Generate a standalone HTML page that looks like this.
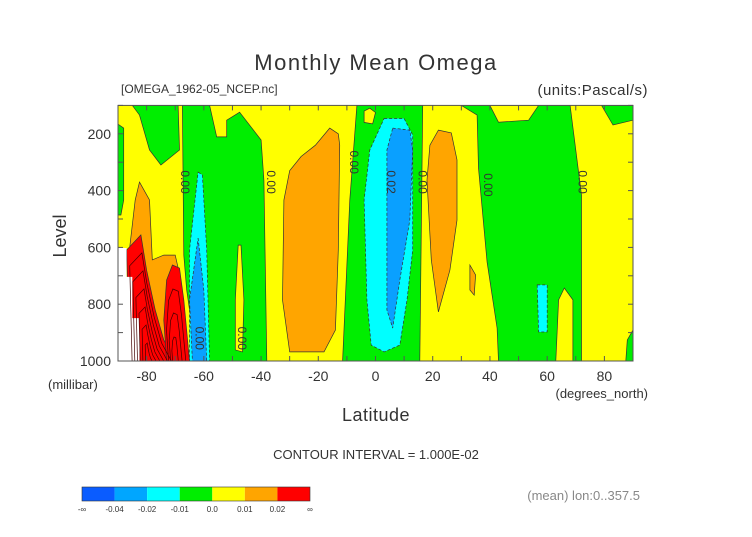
<!DOCTYPE html>
<html><head><meta charset="utf-8"><style>
body{margin:0;background:#fff;}
svg text{font-family:"Liberation Sans",sans-serif;fill:#333;}
</style></head><body>
<svg id="c" width="752" height="532" viewBox="0 0 752 532" xmlns="http://www.w3.org/2000/svg">
<text x="376" y="70" font-size="22" text-anchor="middle" letter-spacing="1.5">Monthly Mean Omega</text>
<text x="121" y="93" font-size="12">[OMEGA_1962-05_NCEP.nc]</text>
<text x="648" y="95" font-size="15" text-anchor="end" letter-spacing="0.5">(units:Pascal/s)</text>
<g id="plot"></g>
<text x="66" y="236" font-size="18" text-anchor="middle" transform="rotate(-90 66 236)">Level</text>
<text x="48" y="389" font-size="13">(millibar)</text>
<text x="376" y="421" font-size="18" text-anchor="middle" letter-spacing="0.5">Latitude</text>
<text x="648" y="398" font-size="13" text-anchor="end">(degrees_north)</text>
<text x="376" y="459" font-size="13" text-anchor="middle">CONTOUR INTERVAL = 1.000E-02</text>
<text x="640" y="500" font-size="13" text-anchor="end" style="fill:#888">(mean) lon:0..357.5</text>
<g id="cbar"></g>
</svg>
<script>
const latTicks=[-80,-60,-40,-20,0,20,40,60,80];
const levTicks=[200,400,600,800,1000];
const cbarLabels=["-∞","-0.04","-0.02","-0.01","0.0","0.01","0.02","∞"];
const cbarColors=["#0a5cff","#00a6ff","#00ffff","#00ee00","#ffff00","#ffa500","#ff0000"];
const regionKinds=["green","green","green","yellow","green","green","yellow","yellow","green","green","yellow","cyan","cyan","cyan","blue","blue","orange","orange","orange","orange","red","red","white"];
const regions=[
[[-85,100],[-69,100],[-68.5,257],[-75,310],[-79,257],[-82.5,134]],
[[-90,166],[-88,180],[-88,433],[-89,486],[-90,486]],
[[-67.5,100],[-58,100],[-55.5,211],[-52,211],[-52,152],[-47.5,124],[-40,222],[-39,363],[-38,1000],[-63,1000],[-64,891],[-66,750],[-67,627]],
[[-48,592],[-47,592],[-46,785],[-46.5,968],[-49,961],[-49,785]],
[[-6.5,100],[16.5,100],[15.5,1000],[-11.5,1000],[-9,433]],
[[30,100],[68,100],[72,416],[72,1000],[43,1000],[42.5,884],[39,652],[36,321],[35.5,134]],
[[40,100],[57,100],[53.5,152],[43,159]],
[[66,743],[69,785],[69,1000],[63,1000],[64,785]],
[[79,100],[90,100],[90,152],[83,169]],
[[87.5,1000],[90,1000],[90,891],[88,926]],
[[-4,120],[-2,110],[0,125],[-1,165],[-4,160]],
[[-62,335],[-60.5,345],[-59,609],[-58,1000],[-65,1000],[-65,609]],
[[3,146],[10,146],[13,204],[13,609],[11,785],[8.5,944],[3,968],[-1.5,944],[-3,785],[-4,433],[-2,257]],
[[56.5,732],[60,732],[60,898],[57,898]],
[[-62,567],[-60,750],[-59,1000],[-64,1000],[-65,785]],
[[6,180],[12,187],[13,257],[12,504],[8.5,715],[6,884],[4,820],[4,433],[4,257]],
[[-16,180],[-13,200],[-12.5,240],[-13,609],[-14,891],[-18,968],[-30,968],[-32.5,785],[-32,433],[-30,330],[-26,280],[-21,240]],
[[22,187],[26.5,197],[28.5,292],[28.5,504],[26,680],[22,827],[19.5,644],[18,363],[19,240]],
[[33,662],[35,697],[34.5,768],[33,750]],
[[-82.5,370],[-79,433],[-78,644],[-74,627],[-70,627],[-68,715],[-67,820],[-65,1000],[-82.5,1000],[-86,785],[-86,609],[-84,433]],
[[-82,556],[-80,680],[-77,820],[-74,926],[-70,1000],[-86,1000],[-87,609]],
[[-71,662],[-68.5,673],[-67,785],[-65,1000],[-73,1000],[-74,856],[-73,715]],
[[-90,602],[-87,602],[-87,704],[-85,704],[-85,849],[-82.5,849],[-82.5,1000],[-90,1000]]
];
const labelText=["0.00","0.00","0.00","0.02","0.00","0.00","0.00","0.00","0.00"];
const labelPos=[[-68,370],[-38,370],[-9,300],[4,370],[15,370],[38,380],[71,370],[-48,920],[-63,920]];
const fillMap={green:"#00ee00",yellow:"#ffff00",cyan:"#00ffff",blue:"#0aa0ff",orange:"#ffa500",red:"#ff0000",white:"#ffffff"};
const X0=118,X1=633,Y0=105.4,Y1=361;
function xs(lat){return X0+(lat+90)/180*(X1-X0);}
function ys(lev){return Y1-(1000-lev)/900*(Y1-Y0);}
const NS="http://www.w3.org/2000/svg";
const plot=document.getElementById('plot');
function mk(tag,attrs,parent){const e=document.createElementNS(NS,tag);for(const k in attrs)e.setAttribute(k,attrs[k]);parent.appendChild(e);return e;}
const cp=mk('clipPath',{id:'clp'},plot);mk('rect',{x:X0,y:Y0,width:X1-X0,height:Y1-Y0},cp);
const g=mk('g',{'clip-path':'url(#clp)'},plot);
const bg=mk('rect',{x:X0,y:Y0,width:X1-X0,height:Y1-Y0,fill:'#ffff00'},g);


regions.forEach((poly,i)=>{
  const k=regionKinds[i];
  const pts=poly.map(p=>xs(p[0]).toFixed(1)+','+ys(p[1]).toFixed(1)).join(' ');
  const neg=(k==='cyan'||k==='blue');
  const e=mk('polygon',{points:pts,fill:fillMap[k],stroke:k==='white'?'none':'#333','stroke-width':0.7,'stroke-dasharray':neg?'3,2':'none'},g);
  
  
});
[20,21].forEach(ri=>{
  const poly=regions[ri];
  const cx=poly.reduce((a,p)=>a+p[0],0)/poly.length;
  const n=ri===20?6:3;
  for(let j=1;j<=n;j++){
    const s=1-j/(n+1);
    const pts=poly.map(p=>xs(cx+(p[0]-cx)*s).toFixed(1)+','+ys(1000-(1000-p[1])*s).toFixed(1)).join(' ');
    const e=mk('polygon',{points:pts,fill:'none',stroke:'#400','stroke-width':0.7},g);
    
    
  }
});
labelText.forEach((t,i)=>{
  const x=xs(labelPos[i][0]),y=ys(labelPos[i][1]);
  const e=mk('text',{x:x,y:y,'font-size':12,'text-anchor':'middle',transform:'rotate(90 '+x+' '+y+')'},g);
  e.textContent=t;
  
  
});
const fr=mk('rect',{x:X0,y:Y0,width:X1-X0,height:Y1-Y0,fill:'none',stroke:'#555','stroke-width':1},plot);


for(let l=-90;l<=90;l+=10){mk('line',{x1:xs(l),x2:xs(l),y1:Y1,y2:Y1-5,stroke:'#555'},plot);mk('line',{x1:xs(l),x2:xs(l),y1:Y0,y2:Y0+5,stroke:'#555'},plot);}
for(let v=100;v<=1000;v+=100){mk('line',{x1:X0,x2:X0+5,y1:ys(v),y2:ys(v),stroke:'#555'},plot);mk('line',{x1:X1,x2:X1-5,y1:ys(v),y2:ys(v),stroke:'#555'},plot);}
latTicks.forEach(l=>{const e=mk('text',{x:xs(l),y:381,'font-size':14,'text-anchor':'middle'},plot);e.textContent=l;
 
 });
levTicks.forEach(v=>{const e=mk('text',{x:111,y:ys(v)+5,'font-size':14,'text-anchor':'end'},plot);e.textContent=v;
 
 });
const cb=document.getElementById('cbar');
const cw=228/cbarColors.length;
cbarColors.forEach((c,i)=>{const e=mk('rect',{x:82+i*cw,y:487,width:cw,height:14,fill:c},cb);
 
 });
mk('rect',{x:82,y:487,width:228,height:14,fill:'none',stroke:'#333','stroke-width':0.6},cb);
cbarLabels.forEach((t,i)=>{const e=mk('text',{x:82+i*cw,y:512,'font-size':8,'text-anchor':'middle'},cb);e.textContent=t;
 
 });
</script>
</body></html>
